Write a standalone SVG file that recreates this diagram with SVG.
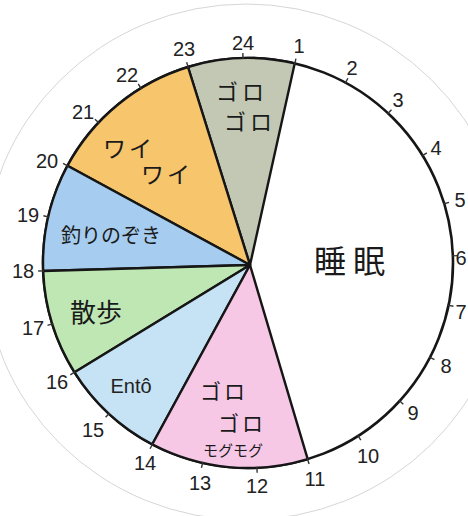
<svg xmlns="http://www.w3.org/2000/svg" width="468" height="516" viewBox="0 0 468 516">
<style>
.w{stroke:#161616;stroke-width:2.4;stroke-linejoin:round}
.n{font-family:"Liberation Sans",Arial,sans-serif;font-size:20px;fill:#222;text-anchor:middle}
.j{font-family:"Noto Sans CJK JP",sans-serif;fill:#1a1a1a;text-anchor:middle}
.t{stroke:#333;stroke-width:1.4}
</style>
<defs>
<line id="tk" x1="204" y1="0" x2="210" y2="0" class="t"/>
</defs>
<rect width="468" height="516" fill="#ffffff"/>
<ellipse cx="246" cy="262" rx="262" ry="258" fill="none" stroke="#d6d6d6" stroke-width="1"/>
<g id="clock">
<circle cx="248" cy="263" r="205" fill="#ffffff" stroke="#161616" stroke-width="2.6"/>
</g>
<g id="sleep">
<text class="j" x="353" y="273" font-size="32" letter-spacing="7">睡眠</text>
</g>
<g id="gorogoro-night">
<path class="w" fill="#c2c8b3" d="M250,265 L188,67 A205,205 0 0 1 294.7,63.4 Z"/>
<text class="j" x="242" y="100" font-size="22" letter-spacing="4">ゴロ</text>
<text class="j" x="250" y="130" font-size="22" letter-spacing="4">ゴロ</text>
</g>
<g id="waiwai">
<path class="w" fill="#f7c56c" d="M250,265 L67.5,165.7 A205,205 0 0 1 188,67 Z"/>
<text class="j" x="129" y="157" font-size="23" letter-spacing="3">ワイ</text>
<text class="j" x="167" y="183" font-size="23" letter-spacing="3">ワイ</text>
</g>
<g id="tsuri">
<path class="w" fill="#a6cdef" d="M250,265 L43.2,271 A205,205 0 0 1 67.5,165.7 Z"/>
<text class="j" x="111" y="243" font-size="20">釣りのぞき</text>
</g>
<g id="sanpo">
<path class="w" fill="#bfe7b4" d="M250,265 L74.6,372.3 A205,205 0 0 1 43.2,271 Z"/>
<text class="j" x="96" y="322" font-size="26">散歩</text>
</g>
<g id="ento">
<path class="w" fill="#c6e3f6" d="M250,265 L152.3,444.3 A205,205 0 0 1 74.6,372.3 Z"/>
<text class="n" x="131" y="393" font-size="23">Entô</text>
</g>
<g id="gorogoro-day">
<path class="w" fill="#f6c8e6" d="M250,265 L307.7,459.1 A205,205 0 0 1 152.3,444.3 Z"/>
<text class="j" x="224" y="399" font-size="21" letter-spacing="3">ゴロ</text>
<text class="j" x="242" y="431" font-size="21" letter-spacing="3">ゴロ</text>
<text class="j" x="233" y="456" font-size="15">モグモグ</text>
</g>
<g id="ticks" transform="translate(248,263)">
<use href="#tk" transform="rotate(-76.8)"/>
<use href="#tk" transform="rotate(-61.6)"/>
<use href="#tk" transform="rotate(-46.9)"/>
<use href="#tk" transform="rotate(-31.6)"/>
<use href="#tk" transform="rotate(-16.8)"/>
<use href="#tk" transform="rotate(-2)"/>
<use href="#tk" transform="rotate(11.9)"/>
<use href="#tk" transform="rotate(27.4)"/>
<use href="#tk" transform="rotate(42.3)"/>
<use href="#tk" transform="rotate(57.5)"/>
<use href="#tk" transform="rotate(73.1)"/>
<use href="#tk" transform="rotate(87.5)"/>
<use href="#tk" transform="rotate(102.8)"/>
<use href="#tk" transform="rotate(117.8)"/>
<use href="#tk" transform="rotate(132.7)"/>
<use href="#tk" transform="rotate(147.8)"/>
<use href="#tk" transform="rotate(162.7)"/>
<use href="#tk" transform="rotate(177.8)"/>
<use href="#tk" transform="rotate(-167)"/>
<use href="#tk" transform="rotate(-151.7)"/>
<use href="#tk" transform="rotate(-136.8)"/>
<use href="#tk" transform="rotate(-121.5)"/>
<use href="#tk" transform="rotate(-107)"/>
<use href="#tk" transform="rotate(-91.4)"/>
</g>
<g id="hours">
<text class="n" x="299" y="53">1</text>
<text class="n" x="352" y="75">2</text>
<text class="n" x="398" y="107">3</text>
<text class="n" x="436" y="155">4</text>
<text class="n" x="460" y="207">5</text>
<text class="n" x="461" y="265">6</text>
<text class="n" x="461" y="319">7</text>
<text class="n" x="446" y="373">8</text>
<text class="n" x="413" y="420">9</text>
<text class="n" x="368" y="463">10</text>
<text class="n" x="315" y="486">11</text>
<text class="n" x="257" y="493">12</text>
<text class="n" x="200" y="490">13</text>
<text class="n" x="145" y="470">14</text>
<text class="n" x="93" y="437">15</text>
<text class="n" x="57" y="389">16</text>
<text class="n" x="33" y="335">17</text>
<text class="n" x="23" y="278">18</text>
<text class="n" x="28" y="222">19</text>
<text class="n" x="47" y="168">20</text>
<text class="n" x="83" y="119">21</text>
<text class="n" x="127" y="82">22</text>
<text class="n" x="184" y="56">23</text>
<text class="n" x="243" y="50">24</text>
</g>
</svg>
